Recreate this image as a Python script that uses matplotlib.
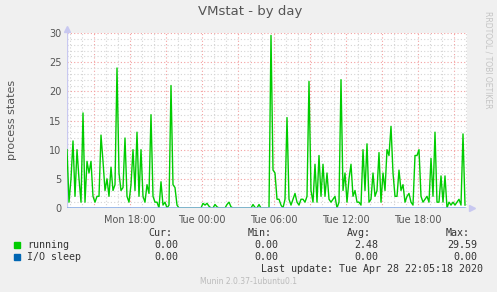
import numpy as np
import pandas as pd
import matplotlib
matplotlib.use("Agg")
import matplotlib.pyplot as plt
import matplotlib.dates as mdates

# 10-minute samples from Mon 12:45 to Tue 22:05
running = [
    10, 1, 5, 11.5, 2, 10, 5, 1, 16.3, 1,
    8, 6, 8, 2, 1, 2, 2, 12.5, 8, 3,
    5, 2, 7, 3, 4, 24, 6, 3, 3.5, 12,
    2, 1, 4, 10, 3, 13, 2, 10, 2, 1,
    4, 2.5, 16, 2, 1, 1, 0, 4.5, 0.5, 1,
    0, 0.5, 21, 4, 3.5, 0.5, 0, 0, 0, 0,
    0, 0, 0, 0, 0, 0, 0, 0, 0.8, 0.5,
    0.8, 0.3, 0, 0, 0.6, 0.2, 0, 0, 0, 0,
    0.6, 1.0, 0.2, 0, 0, 0, 0, 0, 0, 0,
    0, 0, 0, 0.6, 0.1, 0, 0.6, 0, 0, 0,
    0, 0, 29.59, 6.5, 6, 1.5, 1.5, 0.5, 0, 1.5,
    15.5, 1.5, 0.5, 1.5, 2.5, 1, 0.5, 1.5, 1.5, 1,
    2, 21.7, 3, 1, 7.5, 1, 9, 2, 7.5, 2,
    6, 1.5, 1, 1.5, 2, 0, 1, 22, 3, 6,
    1, 5, 7.5, 2, 3, 1, 1, 0.5, 10, 3,
    11, 1, 1.5, 6, 2, 3, 9.5, 1, 6, 3,
    10, 9, 14, 6, 2, 2, 6.5, 3, 4, 1,
    2, 2.5, 1, 0.5, 9, 9, 10, 2, 1, 1.5,
    2, 1, 8.5, 2, 13, 1, 1, 5.5, 1, 5.5,
    0, 1, 0.5, 1, 0.5, 1, 1.5, 0.5, 12.7, 0.5,
]
io_sleep = [0.0] * len(running)
times = pd.date_range("2020-04-27 12:45", periods=len(running), freq="10min")

x_start = pd.Timestamp("2020-04-27 12:45")
x_end = pd.Timestamp("2020-04-28 22:05")
y_ticks = [0, 5, 10, 15, 20, 25, 30]

legend_names = ["running", "I/O sleep"]
legend_colors = ["#00CC00", "#0066B3"]
legend_stats = [["0.00", "0.00", "2.48", "29.59"],
                ["0.00", "0.00", "0.00", "0.00"]]
stat_headers = ["Cur:", "Min:", "Avg:", "Max:"]

W, H = 497, 292
fig = plt.figure(figsize=(W / 100, H / 100), dpi=100, facecolor="#F0F0F0")
ax = fig.add_axes([67 / W, (H - 208) / H, 400 / W, 175 / H])
ax.set_facecolor("white")

ax.plot(times, running, color=legend_colors[0], lw=1.0, zorder=3)
ax.plot(times, io_sleep, color="#8AAEE6", lw=1.2, zorder=4)

ax.set_xlim(x_start, x_end)
ax.set_ylim(0, 30)
ax.set_yticks(y_ticks)
ax.set_yticks(np.arange(0, 31, 1), minor=True)
ax.xaxis.set_major_locator(mdates.HourLocator(byhour=[0, 6, 12, 18]))
ax.xaxis.set_major_formatter(mdates.DateFormatter("%a %H:%M"))

# grid: gray dotted every hour / unit, red dotted every 3h / 5 units
dot = (0, (1, 2))
for h in pd.date_range("2020-04-27 13:00", x_end, freq="1h"):
    c = "#F4A0A0" if h.hour % 3 == 0 else "#D4D4D4"
    ax.axvline(h, color=c, lw=0.8, ls=dot, zorder=1)
for v in range(1, 31):
    c = "#F4A0A0" if v % 5 == 0 else "#D4D4D4"
    ax.axhline(v, color=c, lw=0.8, ls=dot, zorder=1)
ax.axvline(x_end, color="#D4D4D4", lw=0.8, ls=dot, zorder=1)

for s in ax.spines.values():
    s.set_visible(False)
ax.axvline(x_start, color="#C8C8F0", lw=1.0, zorder=2)
ax.tick_params(which="both", length=0, labelsize=7, labelcolor="#555555", pad=4)
ax.tick_params(axis="x", pad=5)

# axis arrows
ax.plot([0], [1.025], marker="^", ms=4, color="#C8C8F0", transform=ax.transAxes, clip_on=False)
ax.plot([1.012], [0], marker=">", ms=4, color="#C8C8F0", transform=ax.transAxes, clip_on=False)

fig.text(250 / W, 1 - 12 / H, "VMstat - by day", ha="center", va="center", fontsize=9.5, color="#555555")
fig.text(12 / W, 1 - 120 / H, "process states", rotation=90, ha="center", va="center",
         fontsize=8, color="#555555")
fig.text(488 / W, 1 - 60 / H, "RRDTOOL / TOBI OETIKER", rotation=270, ha="center", va="center",
         fontsize=5.5, color="#C4C4C4")

mono = "DejaVu Sans Mono"
head_x = [172, 272, 371, 470]
val_x = [178, 278, 378, 477]
for hx, t in zip(head_x, stat_headers):
    fig.text(hx / W, 1 - 233 / H, t, ha="right", va="center", family=mono, fontsize=7.2, color="#333333")
for row, (name, col, stats) in enumerate(zip(legend_names, legend_colors, legend_stats)):
    y = 245 + row * 11.5
    fig.patches.append(plt.Rectangle((14 / W, 1 - (y + 3) / H), 6 / W, 6 / H,
                                     transform=fig.transFigure, color=col, figure=fig))
    fig.text(27 / W, 1 - y / H, name, ha="left", va="center", family=mono, fontsize=7.2, color="#333333")
    for vx, t in zip(val_x, stats):
        fig.text(vx / W, 1 - y / H, t, ha="right", va="center", family=mono, fontsize=7.2, color="#333333")

fig.text(483 / W, 1 - 268.5 / H, "Last update: Tue Apr 28 22:05:18 2020", ha="right", va="center",
         family=mono, fontsize=7.2, color="#333333")
fig.text(248 / W, 1 - 281 / H, "Munin 2.0.37-1ubuntu0.1", ha="center", va="center",
         fontsize=5.5, color="#BBBBBB")

fig.savefig("out.png", dpi=100, facecolor=fig.get_facecolor())
